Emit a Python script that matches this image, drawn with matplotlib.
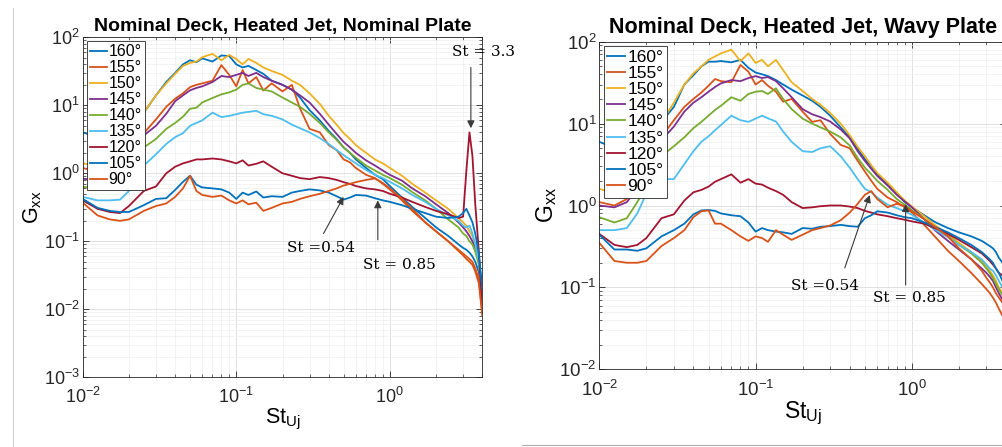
import matplotlib
matplotlib.use('Agg')
import matplotlib.pyplot as plt
from matplotlib.lines import Line2D
from matplotlib.ticker import LogLocator, LogFormatterMathtext, NullFormatter

plt.rcParams['font.family'] = ['Liberation Sans', 'DejaVu Sans']
plt.rcParams['mathtext.fontset'] = 'custom'
plt.rcParams['mathtext.rm'] = 'Liberation Sans'
plt.rcParams['mathtext.it'] = 'Liberation Sans:italic'
plt.rcParams['mathtext.bf'] = 'Liberation Sans:bold'

# Strouhal number grid (St_Uj)
st = [0.010, 0.0125, 0.015, 0.0175, 0.020, 0.025, 0.030, 0.035, 0.040, 0.045,
      0.050, 0.055, 0.060, 0.070, 0.080, 0.090, 0.100, 0.110, 0.120, 0.135,
      0.150, 0.170, 0.200, 0.230, 0.260, 0.300, 0.350, 0.400, 0.450, 0.500,
      0.550, 0.600, 0.700, 0.800, 0.900, 1.000, 1.200, 1.400, 1.700, 2.000,
      2.400, 2.800, 3.000, 3.150, 3.300, 3.450, 3.600, 3.800, 4.000]

angles = ['160°', '155°', '150°', '145°', '140°', '135°', '120°', '105°', '90°']
colors = ['#0072BD', '#D95319', '#EDB120', '#7E2F8E', '#77AC30',
          '#4DBEEE', '#A2142F', '#0072BD', '#D95319']

# ---- Nominal plate ----
nominal_160 = [4.0, 3.4, 3.5, 4.3, 5.2, 7.8, 14, 22, 30, 40,
               46, 43, 49, 44, 54, 53, 40, 36, 38, 33,
               29, 23, 20, 17, 13, 8.5, 6.0, 4.2, 3.2, 2.4,
               2.0, 1.6, 1.2, 0.95, 0.82, 0.65, 0.44, 0.32, 0.22, 0.16,
               0.12, 0.09, 0.08, 0.075, 0.068, 0.06, 0.05, 0.035, 0.012]
nominal_155 = [1.2, 1.05, 1.2, 1.7, 2.4, 3.9, 6.2, 9.5, 12.5, 15,
               18.5, 20, 21, 23, 39, 28, 19, 33, 21, 26,
               16.5, 21, 16, 20, 9, 4.5, 4.0, 2.6, 2.2, 1.6,
               1.45, 1.2, 0.95, 0.85, 0.7, 0.58, 0.4, 0.28, 0.19, 0.14,
               0.1, 0.075, 0.066, 0.06, 0.055, 0.05, 0.04, 0.028, 0.009]
nominal_150 = [1.4, 1.3, 1.6, 2.5, 4.0, 7.8, 14, 21, 29, 38,
               42, 44, 51, 57, 46, 55, 48, 40, 48, 42,
               36, 32, 28, 23, 20, 15, 10.5, 7.0, 5.2, 3.9,
               3.2, 2.6, 2.0, 1.6, 1.4, 1.2, 0.92, 0.7, 0.52, 0.4,
               0.3, 0.22, 0.19, 0.17, 0.14, 0.12, 0.09, 0.05, 0.016]
nominal_145 = [0.83, 0.8, 1.0, 1.4, 2.0, 3.6, 5.0, 7.5, 11.5, 14,
               16.6, 18, 19, 22, 27, 26, 28, 30, 27, 30,
               26, 23, 20, 17, 14, 11, 7.5, 5.2, 3.8, 2.9,
               2.4, 2.0, 1.55, 1.3, 1.1, 0.95, 0.78, 0.6, 0.46, 0.35,
               0.26, 0.19, 0.16, 0.14, 0.12, 0.1, 0.08, 0.05, 0.02]
nominal_140 = [0.63, 0.62, 0.75, 1.0, 1.4, 2.4, 3.2, 4.5, 5.5, 6.8,
               8.9, 9.2, 11, 12.8, 14.5, 15.5, 17, 20, 21, 18,
               17, 16, 13, 11, 9.5, 7.5, 5.5, 4.0, 3.1, 2.4,
               2.0, 1.7, 1.3, 1.1, 0.95, 0.85, 0.68, 0.53, 0.4, 0.3,
               0.21, 0.16, 0.13, 0.12, 0.1, 0.09, 0.07, 0.045, 0.02]
nominal_135 = [0.45, 0.40, 0.40, 0.41, 0.55, 1.3, 1.9, 2.7, 3.4, 3.9,
               5.0, 5.5, 6.0, 7.8, 6.7, 7.0, 7.4, 7.8, 8.0, 8.3,
               7.4, 7.0, 6.2, 5.2, 4.6, 4.0, 3.3, 2.7, 2.2, 1.85,
               1.6, 1.4, 1.12, 0.95, 0.85, 0.75, 0.6, 0.48, 0.38, 0.3,
               0.24, 0.2, 0.17, 0.16, 0.17, 0.13, 0.09, 0.05, 0.02]
nominal_120 = [0.40, 0.30, 0.27, 0.26, 0.33, 0.55, 0.64, 1.0, 1.25, 1.4,
               1.5, 1.6, 1.6, 1.65, 1.6, 1.5, 1.4, 1.55, 1.3, 1.38,
               1.5, 1.25, 1.0, 0.92, 0.85, 0.82, 0.88, 0.85, 0.8, 0.74,
               0.7, 0.65, 0.6, 0.58, 0.55, 0.5, 0.44, 0.38, 0.32, 0.28,
               0.25, 0.22, 0.23, 1.1, 4.0, 1.8, 0.35, 0.07, 0.009]
nominal_105 = [0.42, 0.31, 0.28, 0.27, 0.27, 0.34, 0.42, 0.43, 0.57, 0.75,
               0.92, 0.68, 0.62, 0.6, 0.58, 0.52, 0.42, 0.52, 0.48, 0.54,
               0.44, 0.46, 0.45, 0.52, 0.55, 0.58, 0.56, 0.52, 0.46, 0.41,
               0.44, 0.48, 0.47, 0.43, 0.4, 0.38, 0.34, 0.3, 0.26, 0.23,
               0.22, 0.23, 0.26, 0.3, 0.24, 0.19, 0.13, 0.065, 0.02]
nominal_90 = [0.37, 0.24, 0.21, 0.2, 0.21, 0.28, 0.33, 0.36, 0.45, 0.6,
              0.92, 0.55, 0.48, 0.45, 0.47, 0.4, 0.36, 0.4, 0.35, 0.37,
              0.28, 0.31, 0.36, 0.38, 0.42, 0.46, 0.5, 0.55, 0.6, 0.66,
              0.7, 0.74, 0.8, 0.84, 0.72, 0.6, 0.42, 0.3, 0.19, 0.14,
              0.1, 0.072, 0.062, 0.055, 0.05, 0.045, 0.036, 0.024, 0.008]

# ---- Wavy plate ----
wavy_160 = [6.0, 5.0, 5.5, 6.5, 8.0, 10.5, 16, 30, 39, 50,
            57, 57, 58, 56, 60, 48, 42, 40, 38, 34,
            30, 26, 22, 19, 16, 12.5, 9, 6.8, 4.9, 3.7,
            3.0, 2.4, 1.8, 1.4, 1.1, 0.95, 0.76, 0.63, 0.53, 0.47,
            0.42, 0.37, 0.34, 0.32, 0.3, 0.27, 0.23, 0.2, 0.14]
wavy_155 = [1.1, 1.0, 1.2, 1.8, 2.7, 6.9, 11, 16, 20, 24,
            29, 35, 33, 32, 52, 43, 30, 34, 29, 24.5,
            18.5, 20, 14, 10.5, 11, 7.5, 5.5, 5.0, 3.5, 2.6,
            2.0, 1.6, 1.25, 1.1, 0.95, 0.82, 0.58, 0.42, 0.28, 0.21,
            0.15, 0.11, 0.095, 0.085, 0.075, 0.065, 0.055, 0.045, 0.035]
wavy_150 = [1.6, 1.4, 1.7, 2.8, 4.5, 10.5, 18, 30, 41, 50,
            60, 66, 72, 80, 58, 72, 55, 60, 50, 60,
            45, 32, 25, 20, 17, 13.5, 10, 7.2, 5.2, 4.0,
            3.1, 2.5, 1.9, 1.45, 1.15, 0.97, 0.74, 0.58, 0.44, 0.35,
            0.27, 0.21, 0.18, 0.16, 0.14, 0.12, 0.1, 0.085, 0.06]
wavy_145 = [1.0, 0.95, 1.1, 1.6, 2.4, 6.3, 9.2, 14, 18, 21,
            24.5, 28, 31, 34, 33, 36, 38, 36, 37, 33,
            27, 21, 15, 13, 12, 10.6, 8.5, 6.6, 4.6, 3.5,
            2.8, 2.3, 1.75, 1.35, 1.12, 0.95, 0.68, 0.5, 0.37, 0.29,
            0.22, 0.17, 0.15, 0.135, 0.12, 0.1, 0.085, 0.07, 0.05]
wavy_140 = [0.72, 0.62, 0.7, 1.1, 1.7, 4.0, 5.3, 6.8, 8.8, 10.5,
            12.5, 14.7, 16.5, 21, 19, 23, 24.5, 25, 23, 27,
            20, 15, 11.5, 10, 9, 8, 6.8, 5.4, 3.8, 2.9,
            2.4, 2.0, 1.55, 1.2, 1.02, 0.88, 0.68, 0.55, 0.42, 0.33,
            0.26, 0.2, 0.17, 0.15, 0.13, 0.11, 0.095, 0.08, 0.055]
wavy_135 = [0.5, 0.5, 0.53, 0.8, 1.4, 2.1, 2.1, 3.2, 4.6, 6.0,
            7.0, 8.3, 9.6, 12.5, 11, 10.5, 11.5, 12.5, 11.6, 10.6,
            8, 6.0, 4.6, 4.5, 5.0, 5.3, 4.0, 2.9, 2.1, 1.6,
            1.45, 1.25, 1.02, 0.93, 0.85, 0.77, 0.62, 0.51, 0.41, 0.33,
            0.27, 0.22, 0.19, 0.17, 0.16, 0.14, 0.12, 0.1, 0.07]
wavy_120 = [0.45, 0.33, 0.31, 0.33, 0.4, 0.7, 0.78, 1.15, 1.45, 1.55,
            1.7, 1.95, 2.1, 2.4, 1.9, 2.1, 1.85, 1.8, 1.65, 1.5,
            1.35, 1.1, 0.93, 0.95, 0.98, 1.0, 1.0, 0.97, 0.93, 0.86,
            0.82, 0.78, 0.74, 0.7, 0.67, 0.64, 0.6, 0.53, 0.45, 0.38,
            0.31, 0.26, 0.23, 0.21, 0.19, 0.17, 0.15, 0.14, 0.1]
wavy_105 = [0.44, 0.29, 0.29, 0.28, 0.3, 0.42, 0.5, 0.6, 0.78, 0.87,
            0.88, 0.86, 0.8, 0.76, 0.74, 0.62, 0.48, 0.53, 0.5, 0.48,
            0.47, 0.45, 0.53, 0.52, 0.55, 0.56, 0.58, 0.56, 0.55, 0.7,
            0.76, 0.85, 0.82, 0.76, 0.72, 0.7, 0.62, 0.55, 0.47, 0.4,
            0.33, 0.27, 0.24, 0.22, 0.2, 0.17, 0.15, 0.12, 0.09]
wavy_90 = [0.35, 0.21, 0.2, 0.2, 0.21, 0.32, 0.4, 0.5, 0.72, 0.85,
           0.87, 0.6, 0.6, 0.5, 0.42, 0.37, 0.42, 0.4, 0.36, 0.5,
           0.44, 0.38, 0.44, 0.5, 0.53, 0.57, 0.66, 0.82, 1.05, 1.35,
           1.5, 1.2, 0.95, 1.05, 0.98, 0.85, 0.68, 0.55, 0.42, 0.3,
           0.22, 0.16, 0.13, 0.115, 0.1, 0.085, 0.075, 0.065, 0.045]

nominal = [nominal_160, nominal_155, nominal_150, nominal_145, nominal_140,
           nominal_135, nominal_120, nominal_105, nominal_90]
wavy = [wavy_160, wavy_155, wavy_150, wavy_145, wavy_140,
        wavy_135, wavy_120, wavy_105, wavy_90]

W, H = 1002, 447
fig = plt.figure(figsize=(W / 100, H / 100), dpi=100)


def px_axes(x0, x1, ytop, ybot):
    return fig.add_axes([x0 / W, 1 - ybot / H, (x1 - x0) / W, (ybot - ytop) / H])


def style_axes(ax, ylim, title, sizes):
    tick_fs, title_fs, lab_fs, leg_fs, tpad, xpad = sizes
    ax.set_xscale('log')
    ax.set_yscale('log')
    ax.set_xlim(0.01, 4.0)
    ax.set_ylim(*ylim)
    ax.xaxis.set_major_locator(LogLocator(base=10, numticks=10))
    ax.yaxis.set_major_locator(LogLocator(base=10, numticks=10))
    ax.xaxis.set_minor_locator(LogLocator(base=10, subs=range(2, 10), numticks=20))
    ax.yaxis.set_minor_locator(LogLocator(base=10, subs=range(2, 10), numticks=20))
    ax.xaxis.set_major_formatter(LogFormatterMathtext())
    ax.yaxis.set_major_formatter(LogFormatterMathtext())
    ax.xaxis.set_minor_formatter(NullFormatter())
    ax.yaxis.set_minor_formatter(NullFormatter())
    ax.grid(True, which='major', color='#dcdcdc', lw=0.6)
    ax.grid(True, which='minor', color='#efefef', lw=0.5)
    ax.set_axisbelow(True)
    ax.tick_params(which='both', direction='in', top=True, right=True,
                   colors='#262626', labelsize=tick_fs)
    ax.tick_params(which='major', length=4, width=0.6)
    ax.tick_params(which='minor', length=2, width=0.5)
    ax.tick_params(axis='x', pad=xpad)
    ax.tick_params(axis='y', pad=2)
    for s in ax.spines.values():
        s.set_color('#262626')
        s.set_linewidth(0.6)
    ax.set_title(title, fontsize=title_fs, fontweight='bold', pad=tpad)
    ax.set_xlabel(r'$\mathrm{St_{Uj}}$', fontsize=lab_fs, labelpad=0)
    ax.set_ylabel(r'$\mathrm{G_{xx}}$', fontsize=lab_fs, labelpad=0)
    leg = ax.legend(loc='upper left', fontsize=leg_fs, handlelength=1.05,
                    handletextpad=0.12, labelspacing=0.06, borderpad=0.2,
                    borderaxespad=0.25, frameon=True, fancybox=False,
                    framealpha=1.0, edgecolor='#262626')
    leg.get_frame().set_linewidth(0.6)


ann_font = dict(family=['DejaVu Serif'], fontsize=11)
arrow_kw = dict(arrowstyle='-|>', color='#3a3a3a', lw=0.8, mutation_scale=11,
                shrinkA=0, shrinkB=0)

# ---- Left panel ----
ax1 = px_axes(82.7, 482.3, 37.3, 377.3)
for vals, lab, c in zip(nominal, angles, colors):
    ax1.plot(st, vals, color=c, lw=1.3, label=lab)
style_axes(ax1, (1e-3, 1e2), 'Nominal Deck, Heated Jet, Nominal Plate',
           (13, 14, 15.5, 11.5, 4.5, 7))
ax1.annotate('', xy=(0.50, 0.45), xytext=(0.37, 0.13), arrowprops=arrow_kw)
ax1.text(0.355, 0.079, 'St =0.54', ha='center', va='center', **ann_font)
ax1.annotate('', xy=(0.835, 0.40), xytext=(0.835, 0.105), arrowprops=arrow_kw)
ax1.text(1.16, 0.045, 'St = 0.85', ha='center', va='center', **ann_font)
ax1.annotate('', xy=(3.37, 4.6), xytext=(3.37, 36), arrowprops=arrow_kw,
             annotation_clip=False)
ax1.text(4.1, 61, 'St = 3.3', ha='center', va='center', clip_on=False, **ann_font)

# ---- Right panel (extends past the figure's right edge) ----
ax2 = px_axes(599.3, 1006.0, 41.7, 369.3)
for vals, lab, c in zip(wavy, angles, colors):
    ax2.plot(st, vals, color=c, lw=1.3, label=lab)
style_axes(ax2, (1e-2, 1e2), 'Nominal Deck, Heated Jet, Wavy Plate',
           (13.5, 15.5, 16.5, 12.5, 6.5, 7.5))
ax2.annotate('', xy=(0.537, 1.34), xytext=(0.372, 0.173), arrowprops=arrow_kw)
ax2.text(0.276, 0.104, 'St =0.54', ha='center', va='center', **ann_font)
ax2.annotate('', xy=(0.912, 1.04), xytext=(0.912, 0.107), arrowprops=arrow_kw)
ax2.text(0.966, 0.074, 'St = 0.85', ha='center', va='center', **ann_font)

# screenshot borders
fig.add_artist(Line2D([12.7 / W, 12.7 / W], [0, 1 - 8 / H], color='#d0d0d0', lw=0.8))
fig.add_artist(Line2D([522 / W, 1.0], [1 - 445 / H, 1 - 445 / H], color='#b0b0b0', lw=0.8))

fig.savefig('out.png', dpi=100)
